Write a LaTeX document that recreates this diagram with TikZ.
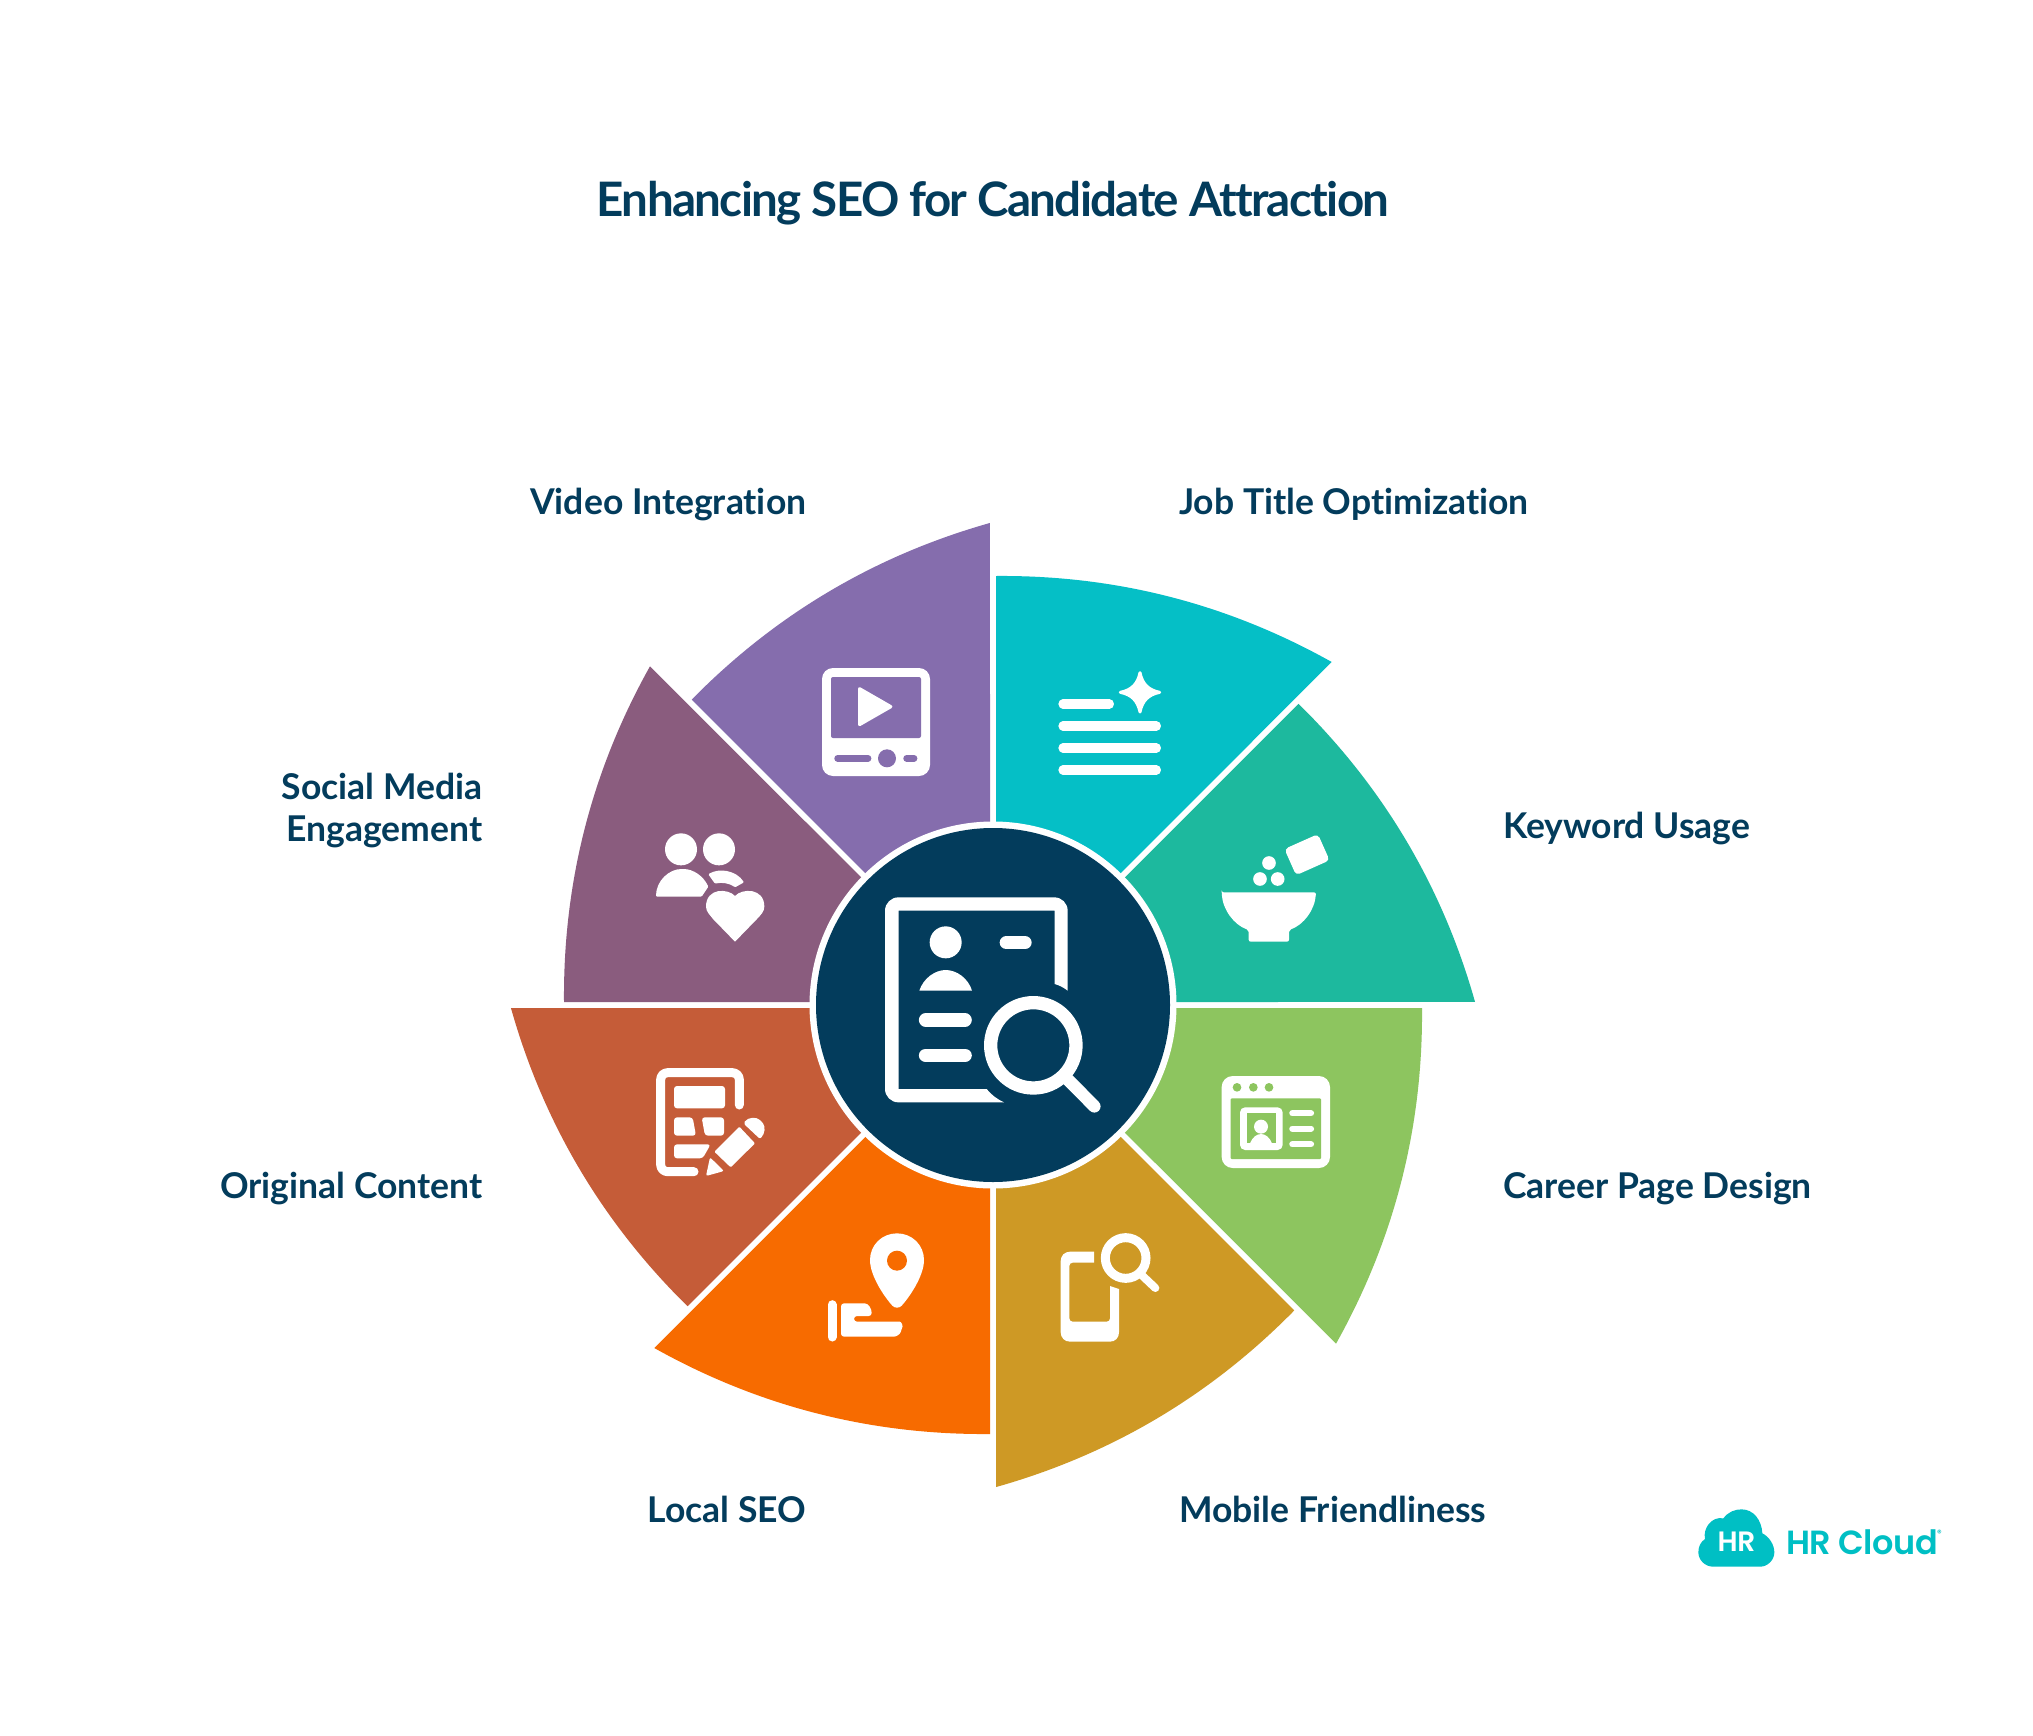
\documentclass[tikz,border=0pt]{standalone}
\usepackage{fontspec}
\setmainfont{Lato}[Ligatures=NoCommon]
\newfontfamily\titlefont{Lato}[Ligatures=NoCommon,LetterSpace=-3.45]
\newfontfamily\logofont{Poppins SemiBold}[LetterSpace=-1.5]
\definecolor{navy}{HTML}{033C5C}
\definecolor{cJob}{HTML}{05BFC6}
\definecolor{cKey}{HTML}{1DB99E}
\definecolor{cCar}{HTML}{8DC55F}
\definecolor{cMob}{HTML}{CE9925}
\definecolor{cLoc}{HTML}{F76B00}
\definecolor{cOri}{HTML}{C55C38}
\definecolor{cSoc}{HTML}{8A5C7E}
\definecolor{cVid}{HTML}{856DAD}
\definecolor{cLogo}{HTML}{00BFC4}
\tikzset{
  wl/.style={draw=white,line cap=round,line join=round,fill=none},
  lab/.style={font=\fontsize{35.5}{41.5}\selectfont\bfseries,text=navy,inner sep=0pt,align=#1},
  lab/.default=left,
  icon/.style={shift={#1},scale=1/3},
}
\begin{document}
\begin{tikzpicture}[x=1pt,y=-1pt]
\useasboundingbox[fill=white] (0,0) rectangle (2033,1736);
% sectors
\foreach \k/\c in {0/cJob,1/cKey,2/cCar,3/cMob,4/cLoc,5/cOri,6/cSoc,7/cVid}{
  \begin{scope}[shift={(993,1005)},rotate=-45*\k]
    \fill[\c] (3,-7.2) -- (3,-429) .. controls (122.5,-430) and (234.4,-401.4) .. (338.7,-343) -- cycle;
  \end{scope}
}
\fill[white] (993,1005) circle (183.5);
\fill[navy] (993,1005) circle (177);
% central icon
\begin{scope}[icon={(780,780)}]
  \fill[white,even odd rule,rounded corners=0pt] (863,632) -- (863,392) .. controls (863,370) and (845,352) .. (823,352) -- (355,352) .. controls (333,352) and (315,370) .. (315,392) -- (315,927) .. controls (315,949) and (333,967) .. (355,967) -- (672,967) .. controls (650,957) and (635,945) .. (620,927) -- (356,927) -- (356,392) -- (824,392) -- (824,612) .. controls (840,617) and (850,622) .. (863,632) -- cycle;
  \fill[white] (497,487) circle (48);
  \draw[wl,line width=13.3pt] (679,488) -- (735,488);
  \fill[white] (418,632) .. controls (430,595) and (465,570) .. (497,570) .. controls (530,570) and (565,595) .. (576,632) -- cycle;
  \draw[wl,line width=13.6pt] (437,720) -- (555,720);
  \draw[wl,line width=13.6pt] (437,826) -- (555,826);
  \draw[white,line width=13.3pt] (760,796) circle (128);
  \draw[wl,line width=12.5pt] (865,900) -- (943,979);
\end{scope}
% job title icon
\begin{scope}[icon={(1000,620)}]
  \draw[wl,line width=9.3pt] (189,252) -- (328,252);
  \draw[wl,line width=9.3pt] (189,318) -- (469,318);
  \draw[wl,line width=9.3pt] (189,384) -- (469,384);
  \draw[wl,line width=9.3pt] (189,450) -- (469,450);
  \draw[white,fill=white,line width=3pt,line join=round] (420,158) .. controls (427,192) and (445,210) .. (479,217) .. controls (445,224) and (427,242) .. (420,276) .. controls (413,242) and (395,224) .. (361,217) .. controls (395,210) and (413,192) .. (420,158) -- cycle;
  % keyword icon
  \fill[white,rounded corners=4pt,rotate around={24:(921,704)}] (866,661) rectangle (976,747);
  \fill[white] (807,729) circle (20.5);
  \fill[white] (780,777) circle (20.5);
  \fill[white] (833,777) circle (20.5);
  \fill[white,rounded corners=2pt] (665,817) -- (948,817) .. controls (945,870) and (910,915) .. (867,930) -- (867,965) -- (746,965) -- (746,930) .. controls (703,915) and (668,870) .. (665,817) -- cycle;
\end{scope}
% video icon and social icon
\begin{scope}[icon={(620,640)}]
  \fill[white,rounded corners=11pt] (606,84) rectangle (930,408);
  \fill[cVid,rounded corners=2pt] (633,111) rectangle (903,294);
  \fill[white,rounded corners=3pt] (714,138) -- (822,200) -- (714,262) -- cycle;
  \draw[cVid,line cap=round,line width=6.8pt] (653,355) -- (744,355);
  \draw[cVid,line cap=round,line width=6.8pt] (860,355) -- (882,355);
  \fill[cVid] (801,355) circle (27);
  \fill[white] (183,628) circle (48);
  \fill[white] (297,628) circle (48);
  \fill[white,rounded corners=1pt] (108,770) .. controls (108,722) and (148,687) .. (187,687) .. controls (220,687) and (250,708) .. (265,740) -- (245,770) -- cycle;
  \fill[white,rounded corners=1pt] (265,703) .. controls (295,683) and (348,690) .. (372,727) -- (345,742) .. controls (330,730) and (305,726) .. (285,731) -- cycle;
  \fill[white] (345,768) .. controls (325,745) and (258,742) .. (258,800) .. controls (258,815) and (270,825) .. (280,838) -- (345,905) -- (410,838) .. controls (422,825) and (433,815) .. (433,800) .. controls (433,742) and (365,745) .. (345,768) -- cycle;
\end{scope}
% original content icon and local icon
\begin{scope}[icon={(620,1040)}]
  \draw[wl,line width=9pt,rounded corners=7pt] (358,195) -- (358,98) -- (122,98) -- (122,395) -- (222,395);
  \fill[white,rounded corners=3pt] (162,138) rectangle (315,205);
  \fill[white,rounded corners=3pt] (162,232) -- (218,232) -- (228,287) -- (162,287) -- cycle;
  \fill[white,rounded corners=3pt] (245,232) -- (312,232) -- (312,287) -- (255,287) -- cycle;
  \fill[white,rounded corners=3pt] (162,313) -- (272,313) -- (248,355) -- (162,355) -- cycle;
  \fill[white,rounded corners=1pt] (358,260) -- (405,310) -- (332,382) -- (283,335) -- cycle;
  \fill[white,rounded corners=2pt] (370,250) .. controls (385,230) and (410,230) .. (425,245) .. controls (437,260) and (435,280) .. (420,297) -- cycle;
  \fill[white,rounded corners=2pt] (270,352) -- (312,393) -- (258,408) -- cycle;
  \fill[white] (750,660) .. controls (750,615) and (786,580) .. (831,580) .. controls (876,580) and (912,615) .. (912,660) .. controls (912,710) and (865,775) .. (845,797) .. controls (838,805) and (824,805) .. (817,797) .. controls (797,775) and (750,710) .. (750,660) -- cycle;
  \fill[cLoc] (831,662) circle (30);
  \draw[wl,line width=9pt] (636,794) -- (636,891);
  \fill[white,rounded corners=3pt] (663,790) -- (725,790) .. controls (745,790) and (755,805) .. (755,828) -- (702,828) -- (702,845) -- (830,845) .. controls (845,845) and (848,858) .. (845,868) .. controls (840,882) and (830,890) .. (812,890) -- (663,890) -- cycle;
\end{scope}
% career and mobile icon
\begin{scope}[icon={(1000,1040)}]
  \fill[white,rounded corners=11pt] (665,108) rectangle (990,384);
  \fill[cCar] (711,142) circle (13);
  \fill[cCar] (760,142) circle (13);
  \fill[cCar] (807,142) circle (13);
  \fill[cCar,rounded corners=1pt] (692,175) rectangle (963,357);
  \fill[white,rounded corners=5pt] (720,202) rectangle (848,330);
  \fill[cCar] (740,220) rectangle (828,310);
  \fill[white] (783,260) circle (21);
  \fill[white] (750,310) .. controls (757,292) and (770,282) .. (783,282) .. controls (796,282) and (809,292) .. (816,310) -- cycle;
  \draw[wl,line width=6.2pt] (877,220) -- (933,220);
  \draw[wl,line width=6.2pt] (877,266) -- (933,266);
  \draw[wl,line width=6.2pt] (877,313) -- (933,313);
  \fill[white] (282,635) -- (210,635) .. controls (194,635) and (182,647) .. (182,663) -- (182,877) .. controls (182,893) and (194,905) .. (210,905) -- (330,905) .. controls (346,905) and (357,893) .. (357,877) -- (357,747) -- (330,738) -- (330,835) .. controls (330,841) and (326,845) .. (320,845) -- (218,845) .. controls (212,845) and (208,841) .. (208,835) -- (208,678) .. controls (208,672) and (212,668) .. (218,668) -- (282,668) -- cycle;
  \draw[white,line width=9pt] (377,654) circle (61);
  \draw[wl,line width=8pt] (428,708) -- (466,744);
\end{scope}
% labels
\node[lab,anchor=base west] (job) at (1179,514) {Job Title Optimization};
\node[lab,anchor=base west] (key) at (1503,838) {Keyword Usage};
\node[lab,anchor=base west] (car) at (1503,1198) {Career Page Design};
\node[lab,anchor=base west] (mob) at (1179,1522) {Mobile Friendliness};
\node[lab,anchor=base east] (loc) at (806.5,1522) {Local SEO};
\node[lab,anchor=base east] (ori) at (482.5,1198) {Original Content};
\node[lab=right,anchor=east] (soc) at (482.5,810.5) {Social Media\\Engagement};
\node[lab,anchor=base east] (vid) at (806.5,514) {Video Integration};
\node[font=\titlefont\fontsize{47.5}{50}\selectfont\bfseries,text=navy,inner sep=0pt,anchor=base] (title) at (993,216.5) {Enhancing SEO for Candidate Attraction};
% logo
\begin{scope}[icon={(1680,1490)}]
  \fill[cLogo] (100,230) .. controls (75,230) and (55,210) .. (55,187) .. controls (55,170) and (62,155) .. (75,147) .. controls (68,115) and (95,78) .. (130,85) .. controls (145,65) and (165,58) .. (185,58) .. controls (220,58) and (245,90) .. (247,130) .. controls (268,140) and (283,165) .. (283,187) .. controls (283,210) and (263,230) .. (240,230) -- cycle;
\end{scope}
\node[font=\logofont\fontsize{28}{30}\selectfont,text=white,inner sep=0pt,anchor=base] (hr) at (1736.5,1551) {HR};
\node[font=\logofont\fontsize{33.5}{36}\selectfont,text=cLogo,inner sep=0pt,anchor=base west] (brand) at (1786,1554) {HR Cloud};
\node[font=\logofont\fontsize{9}{10}\selectfont,text=cLogo,inner sep=0pt,anchor=center] (reg) at (1939.5,1533) {®};
\end{tikzpicture}
\end{document}
